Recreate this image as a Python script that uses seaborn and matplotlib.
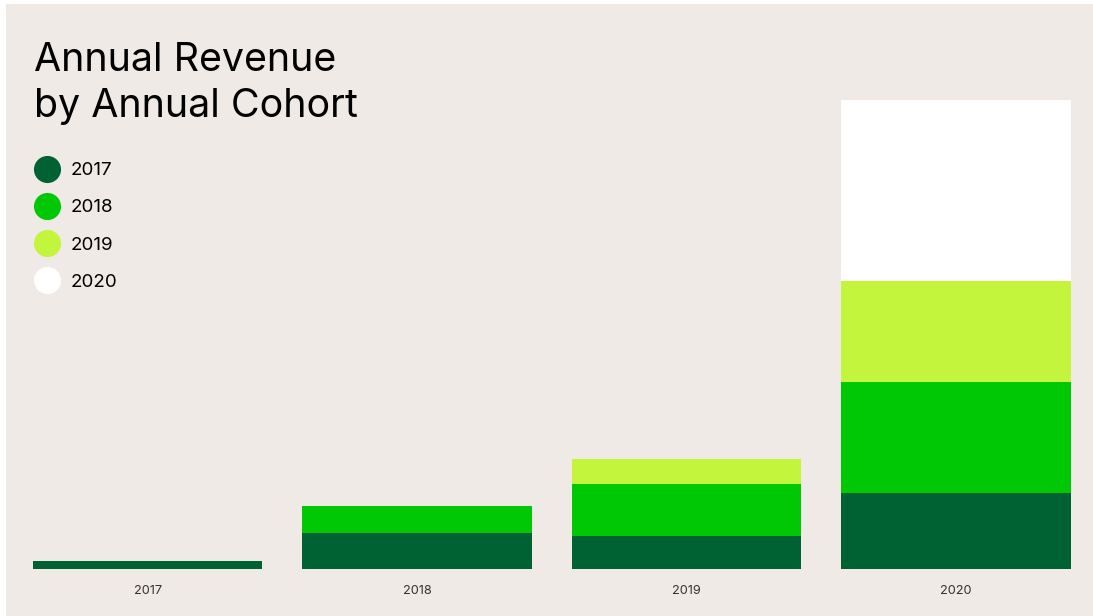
import matplotlib
matplotlib.use("Agg")
import matplotlib.pyplot as plt
from matplotlib.lines import Line2D
from matplotlib.patches import Rectangle
import numpy as np
import pandas as pd
import seaborn as sns

# Revenue by calendar year, split by the cohort year customers joined
years = ["2017", "2018", "2019", "2020"]
cohorts = ["2017", "2018", "2019", "2020"]
cohort_2017 = [8.0, 36.5, 33.5, 76.0]
cohort_2018 = [0.0, 26.5, 52.0, 111.0]
cohort_2019 = [0.0, 0.0, 25.0, 101.5]
cohort_2020 = [0.0, 0.0, 0.0, 181.0]
cohort_colors = ["#006133", "#00C805", "#C3F53C", "#FFFFFF"]

BG = "#EFEAE6"

sns.set_theme(style="white")
plt.rcParams["font.family"] = ["Inter", "DejaVu Sans"]

W, H = 1093, 616
fig = plt.figure(figsize=(W / 100, H / 100), dpi=100, facecolor="white")
fig.patches.append(Rectangle((6 / W, 0), 1 - 6 / W, 1 - 4 / H,
                             transform=fig.transFigure, facecolor=BG,
                             edgecolor="none", zorder=-10))

# one unit of revenue = one pixel of height
ax_bottom = (H - 569.3) / H
ax = fig.add_axes([13.0 / W, ax_bottom, (1090.6 - 13.0) / W, 500 / H])
ax.set_facecolor("none")

df = pd.DataFrame({"year": years, "c2017": cohort_2017, "c2018": cohort_2018,
                   "c2019": cohort_2019, "c2020": cohort_2020})
layers = ["c2017", "c2018", "c2019", "c2020"]
cum = df[layers].cumsum(axis=1)

# stacked bars: draw the running totals from the top layer down
for i in range(len(layers) - 1, -1, -1):
    sns.barplot(x=df["year"], y=cum[layers[i]], color=cohort_colors[i],
                width=0.852, linewidth=0, saturation=1, ax=ax)

ax.set_xlim(-0.5, 3.5)
ax.set_ylim(0, 500)
ax.set_xlabel("")
ax.set_ylabel("")
ax.set_yticks([])
ax.tick_params(axis="x", length=0, pad=11, labelsize=9.2, labelcolor="#333333")
for s in ax.spines.values():
    s.set_visible(False)

fig.text(34 / W, 1 - 117 / H, "Annual Revenue\nby Annual Cohort",
         fontsize=28.35, color="#000000", ha="left", va="baseline",
         linespacing=1.32)

handles = [Line2D([], [], marker="o", linestyle="", markersize=19.5,
                  markerfacecolor=c, markeredgecolor="none") for c in cohort_colors]
fig.legend(handles, cohorts, loc="upper left",
           bbox_to_anchor=(33.3 / W, 1 - 162 / H), frameon=False,
           fontsize=13.5, handlelength=1.5, handletextpad=0.5,
           labelspacing=1.07, borderpad=0, borderaxespad=0,
           labelcolor="#000000")

fig.savefig("out.png", dpi=100, facecolor=fig.get_facecolor())
